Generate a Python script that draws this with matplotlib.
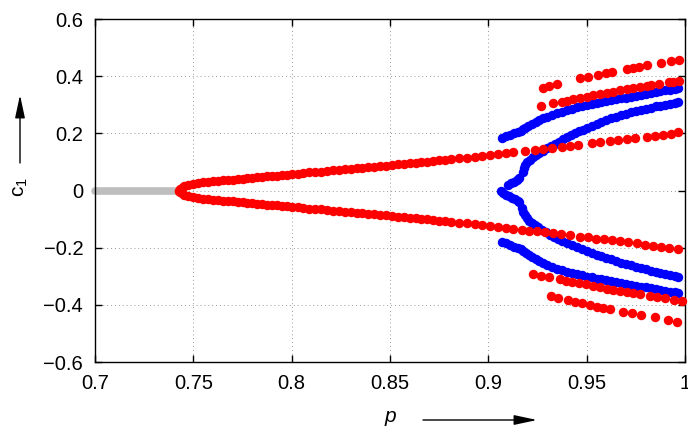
import matplotlib
matplotlib.use('Agg')
import matplotlib.pyplot as plt

plt.rcParams['font.family'] = ['Liberation Sans', 'DejaVu Sans']

# trivial branch (grey)
p_trivial = [0.7, 0.7425]
c_trivial = [0.0, 0.0]

# main red branch, shared first part
p_main = [0.7425, 0.7430, 0.7440, 0.7455, 0.7475, 0.750, 0.7525, 0.755, 0.7575, 0.760,
          0.7625, 0.765, 0.7675, 0.770, 0.7725, 0.775, 0.7775, 0.780, 0.7825, 0.785,
          0.7875, 0.790, 0.7925, 0.795, 0.7975, 0.800, 0.803, 0.806, 0.809, 0.812,
          0.815, 0.818, 0.821, 0.824, 0.827, 0.830, 0.833, 0.836, 0.839, 0.842,
          0.845, 0.848, 0.851, 0.854, 0.857, 0.860, 0.863, 0.866, 0.869, 0.872,
          0.875, 0.878, 0.881, 0.885, 0.889, 0.893]
c_main_up = [0.000, 0.005, 0.010, 0.014, 0.018, 0.022, 0.025, 0.028, 0.030, 0.032,
             0.034, 0.035, 0.037, 0.038, 0.040, 0.041, 0.043, 0.044, 0.046, 0.047,
             0.049, 0.050, 0.052, 0.053, 0.055, 0.057, 0.059, 0.061, 0.063, 0.065,
             0.066, 0.068, 0.070, 0.072, 0.074, 0.076, 0.078, 0.080, 0.082, 0.083,
             0.085, 0.087, 0.089, 0.091, 0.093, 0.095, 0.097, 0.099, 0.101, 0.103,
             0.105, 0.107, 0.109, 0.112, 0.115, 0.118]
c_main_lo = [0.000, -0.005, -0.010, -0.014, -0.018, -0.022, -0.025, -0.028, -0.030, -0.032,
             -0.034, -0.035, -0.037, -0.038, -0.040, -0.041, -0.043, -0.044, -0.046, -0.047,
             -0.049, -0.050, -0.052, -0.053, -0.055, -0.057, -0.059, -0.061, -0.063, -0.065,
             -0.066, -0.068, -0.070, -0.072, -0.074, -0.076, -0.078, -0.080, -0.082, -0.083,
             -0.085, -0.087, -0.089, -0.091, -0.093, -0.095, -0.097, -0.099, -0.101, -0.103,
             -0.105, -0.107, -0.109, -0.112, -0.115, -0.118]

# main red branch, tails
p_tail_up = [0.8966, 0.9008, 0.9048, 0.9088, 0.9127, 0.9186, 0.9237, 0.9276, 0.9322, 0.9373,
             0.9415, 0.9458, 0.9526, 0.9568, 0.9619, 0.9658, 0.9704, 0.9746, 0.9805, 0.9847,
             0.9886, 0.9927, 0.9966]
c_tail_up = [0.121, 0.124, 0.127, 0.130, 0.133, 0.138, 0.142, 0.145, 0.148, 0.153,
             0.156, 0.159, 0.165, 0.168, 0.172, 0.175, 0.179, 0.183, 0.188, 0.191,
             0.195, 0.198, 0.203]
p_tail_lo = [0.8966, 0.9008, 0.9048, 0.9088, 0.9127, 0.9170, 0.9208, 0.9249, 0.9288, 0.9327,
             0.9368, 0.9415, 0.9466, 0.9508, 0.9547, 0.9588, 0.9627, 0.9669, 0.9709, 0.9754,
             0.9797, 0.9839, 0.9878, 0.9919, 0.9966]
c_tail_lo = [-0.121, -0.124, -0.127, -0.130, -0.134, -0.137, -0.140, -0.143, -0.146, -0.150,
             -0.153, -0.157, -0.161, -0.164, -0.168, -0.171, -0.174, -0.178, -0.181, -0.185,
             -0.189, -0.193, -0.196, -0.200, -0.204]

# outer red branches
p_red_a_up = [0.9276, 0.9308, 0.9347, 0.9466, 0.9508, 0.9559, 0.9598, 0.9627, 0.9706, 0.9737,
              0.9768, 0.9808, 0.9878, 0.9927, 0.9969]
c_red_a_up = [0.360, 0.367, 0.373, 0.393, 0.398, 0.404, 0.410, 0.414, 0.424, 0.430,
              0.433, 0.438, 0.447, 0.453, 0.458]
p_red_b_up = [0.9266, 0.9327, 0.9373, 0.9398, 0.9432, 0.9466, 0.9500, 0.9534, 0.9568, 0.9602,
              0.9636, 0.9669, 0.9704, 0.9737, 0.9771, 0.9805, 0.9825, 0.9868, 0.9920, 0.9937,
              0.9968]
c_red_b_up = [0.297, 0.305, 0.311, 0.314, 0.319, 0.325, 0.328, 0.333, 0.338, 0.342,
              0.346, 0.351, 0.354, 0.358, 0.362, 0.367, 0.370, 0.374, 0.380, 0.381,
              0.384]
p_red_b_lo = [0.9225, 0.9267, 0.9307, 0.9363, 0.9393, 0.9425, 0.9461, 0.9497, 0.9534, 0.9568,
              0.9602, 0.9636, 0.9669, 0.9704, 0.9737, 0.9771, 0.9822, 0.9856, 0.9898, 0.9944,
              0.9983]
c_red_b_lo = [-0.293, -0.298, -0.304, -0.311, -0.316, -0.320, -0.325, -0.328, -0.334, -0.339,
              -0.344, -0.348, -0.352, -0.356, -0.360, -0.363, -0.368, -0.372, -0.377, -0.383,
              -0.387]
p_red_a_lo = [0.9317, 0.9356, 0.9407, 0.9441, 0.9478, 0.9517, 0.9554, 0.9585, 0.9619, 0.9686,
              0.9729, 0.9776, 0.9847, 0.9915, 0.9958]
c_red_a_lo = [-0.369, -0.375, -0.383, -0.389, -0.395, -0.401, -0.407, -0.410, -0.415, -0.424,
              -0.430, -0.436, -0.444, -0.453, -0.459]

# blue branches
p_blue_out_up = [0.9068, 0.9090, 0.9110, 0.9130, 0.9150, 0.9165, 0.9175, 0.9185, 0.9200, 0.9220,
                 0.9240, 0.9260, 0.9280, 0.9300, 0.9325, 0.9350, 0.9375, 0.9400, 0.9425, 0.9450,
                 0.9475, 0.9500, 0.9525, 0.9550, 0.9575, 0.9600, 0.9625, 0.9650, 0.9675, 0.9700,
                 0.9725, 0.9750, 0.9775, 0.9800, 0.9825, 0.9850, 0.9875, 0.9900, 0.9925, 0.9950,
                 0.9966]
c_blue_out_up = [0.183, 0.189, 0.195, 0.200, 0.204, 0.208, 0.214, 0.219, 0.225, 0.232,
                 0.239, 0.246, 0.253, 0.258, 0.264, 0.270, 0.276, 0.281, 0.286, 0.291,
                 0.295, 0.298, 0.302, 0.305, 0.309, 0.312, 0.315, 0.319, 0.322, 0.325,
                 0.328, 0.331, 0.334, 0.337, 0.340, 0.344, 0.347, 0.350, 0.353, 0.356,
                 0.358]
p_blue_in_up = [0.9100, 0.9115, 0.9130, 0.9145, 0.9158, 0.9175, 0.9180, 0.9188, 0.9198, 0.9210,
                0.9225, 0.9240, 0.9260, 0.9280, 0.9300, 0.9320, 0.9340, 0.9360, 0.9380, 0.9400,
                0.9420, 0.9440, 0.9460, 0.9480, 0.9500, 0.9525, 0.9550, 0.9575, 0.9600, 0.9625,
                0.9650, 0.9675, 0.9700, 0.9725, 0.9750, 0.9775, 0.9800, 0.9825, 0.9850, 0.9875,
                0.9900, 0.9925, 0.9950, 0.9966]
c_blue_in_up = [0.020, 0.026, 0.031, 0.036, 0.042, 0.066, 0.078, 0.090, 0.100, 0.108,
                0.116, 0.123, 0.131, 0.139, 0.147, 0.155, 0.163, 0.171, 0.179, 0.186,
                0.193, 0.200, 0.207, 0.213, 0.219, 0.226, 0.233, 0.240, 0.246, 0.252,
                0.258, 0.263, 0.268, 0.273, 0.278, 0.282, 0.286, 0.290, 0.294, 0.297,
                0.300, 0.303, 0.306, 0.308]
p_blue_in_lo = [0.9063, 0.9075, 0.9090, 0.9105, 0.9120, 0.9135, 0.9150, 0.9158, 0.9172, 0.9178,
                0.9186, 0.9196, 0.9208, 0.9222, 0.9238, 0.9255, 0.9275, 0.9295, 0.9315, 0.9335,
                0.9355, 0.9375, 0.9400, 0.9425, 0.9450, 0.9475, 0.9500, 0.9525, 0.9550, 0.9575,
                0.9600, 0.9625, 0.9650, 0.9675, 0.9700, 0.9725, 0.9750, 0.9775, 0.9800, 0.9825,
                0.9850, 0.9875, 0.9900, 0.9925, 0.9950, 0.9966]
c_blue_in_lo = [0.000, -0.007, -0.014, -0.020, -0.026, -0.031, -0.036, -0.040, -0.062, -0.074,
                -0.086, -0.097, -0.106, -0.114, -0.121, -0.129, -0.137, -0.146, -0.154, -0.161,
                -0.168, -0.175, -0.183, -0.190, -0.197, -0.204, -0.211, -0.217, -0.224, -0.230,
                -0.236, -0.241, -0.247, -0.252, -0.257, -0.262, -0.267, -0.271, -0.275, -0.280,
                -0.284, -0.288, -0.292, -0.296, -0.300, -0.303]
p_blue_out_lo = [0.9068, 0.9090, 0.9110, 0.9130, 0.9150, 0.9165, 0.9178, 0.9190, 0.9205, 0.9220,
                 0.9240, 0.9260, 0.9280, 0.9300, 0.9325, 0.9350, 0.9375, 0.9400, 0.9425, 0.9450,
                 0.9475, 0.9500, 0.9525, 0.9550, 0.9575, 0.9600, 0.9625, 0.9650, 0.9675, 0.9700,
                 0.9725, 0.9750, 0.9775, 0.9800, 0.9825, 0.9850, 0.9875, 0.9900, 0.9925, 0.9950,
                 0.9966]
c_blue_out_lo = [-0.180, -0.185, -0.191, -0.196, -0.200, -0.204, -0.211, -0.219, -0.227, -0.234,
                 -0.241, -0.248, -0.255, -0.261, -0.267, -0.273, -0.279, -0.284, -0.289, -0.293,
                 -0.297, -0.301, -0.304, -0.308, -0.311, -0.314, -0.318, -0.321, -0.324, -0.327,
                 -0.330, -0.333, -0.336, -0.339, -0.342, -0.345, -0.348, -0.351, -0.354, -0.356,
                 -0.358]

x_ticks = [0.7, 0.75, 0.8, 0.85, 0.9, 0.95, 1.0]
x_labels = ['0.7', '0.75', '0.8', '0.85', '0.9', '0.95', '1']
y_ticks = [-0.6, -0.4, -0.2, 0.0, 0.2, 0.4, 0.6]
y_labels = ['\u22120.6', '\u22120.4', '\u22120.2', '0', '0.2', '0.4', '0.6']

fig = plt.figure(figsize=(6.88, 4.28), dpi=100)
ax = fig.add_axes([95/688, 1 - 362/428, 590/688, 343/428])

ax.plot(p_trivial, c_trivial, color='#bebebe', lw=5.5, solid_capstyle='round', clip_on=False, zorder=2)

for p, c in [(p_blue_out_up, c_blue_out_up), (p_blue_in_up, c_blue_in_up),
             (p_blue_in_lo, c_blue_in_lo), (p_blue_out_lo, c_blue_out_lo)]:
    ax.plot(p, c, color='#0000ff', ls='none', marker='o', ms=6.8, mew=0, clip_on=False, zorder=3)

for p, c in [(p_main, c_main_up), (p_main, c_main_lo), (p_tail_up, c_tail_up), (p_tail_lo, c_tail_lo),
             (p_red_a_up, c_red_a_up), (p_red_b_up, c_red_b_up),
             (p_red_a_lo, c_red_a_lo), (p_red_b_lo, c_red_b_lo)]:
    ax.plot(p, c, color='#ff0000', ls='none', marker='o', ms=6.8, mew=0, clip_on=False, zorder=4)

ax.set_xlim(0.7, 1.0)
ax.set_ylim(-0.6, 0.6)
ax.set_xticks(x_ticks)
ax.set_xticklabels(x_labels)
ax.set_yticks(y_ticks)
ax.set_yticklabels(y_labels)
ax.tick_params(direction='in', length=5, width=1, labelsize=14.5, pad=8.5,
               top=True, right=True)
ax.grid(True, color='#999999', lw=0.7, ls=(0, (1, 3)))
ax.set_axisbelow(True)
for s in ax.spines.values():
    s.set_linewidth(1.0)

# axis labels with arrows, gnuplot style
fig.text(390/688, 1 - 416/428, 'p', fontsize=15, fontstyle='italic', ha='center', va='center')
ax.annotate('', xy=(537, 428 - 420), xytext=(423, 428 - 420), xycoords='figure pixels',
            textcoords='figure pixels',
            arrowprops=dict(arrowstyle='-|>,head_length=0.7,head_width=0.15', color='black',
                            lw=1.0, mutation_scale=20, shrinkA=0, shrinkB=0))
fig.text(20/688, 1 - 187/428, r'$\mathregular{c_1}$', fontsize=15, rotation=90,
         ha='center', va='center')
ax.annotate('', xy=(20, 428 - 95), xytext=(20, 428 - 163), xycoords='figure pixels',
            textcoords='figure pixels',
            arrowprops=dict(arrowstyle='-|>,head_length=0.7,head_width=0.15', color='black',
                            lw=1.0, mutation_scale=20, shrinkA=0, shrinkB=0))

fig.savefig('out.png', dpi=100)
